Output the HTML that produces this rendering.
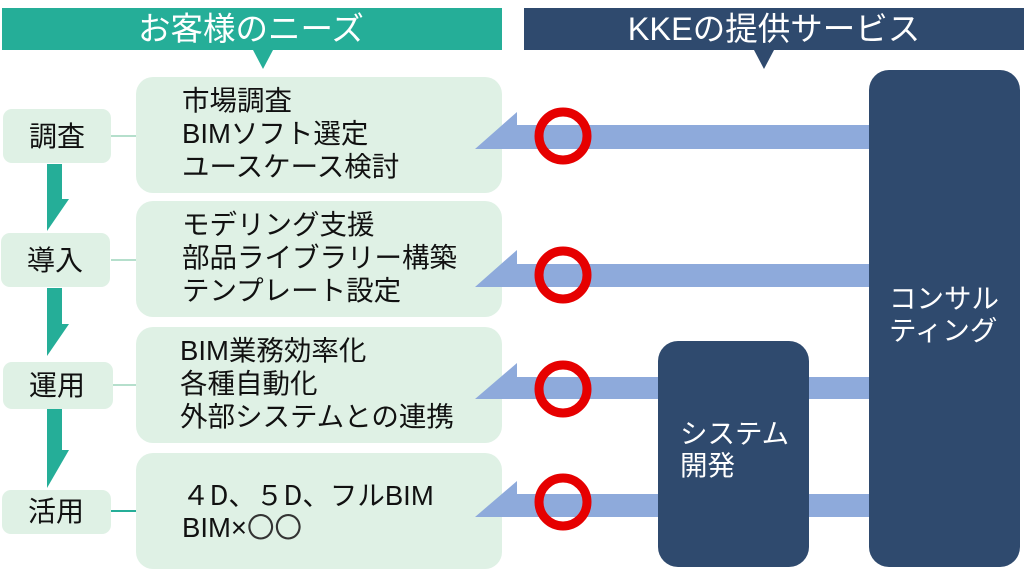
<!DOCTYPE html>
<html><head><meta charset="utf-8"><style>
html,body{margin:0;padding:0;background:#fff;}
svg{display:block;}
text{font-family:"Liberation Sans","Noto Sans CJK JP",sans-serif;}
.cjk{font-family:"Noto Sans CJK JP",sans-serif;}
</style></head><body>
<svg width="1024" height="570" viewBox="0 0 1024 570" xmlns="http://www.w3.org/2000/svg">
<rect x="2" y="8" width="500" height="42" fill="#25ae98"/>
<polygon points="253,50 273,50 263,69" fill="#25ae98"/>
<text x="251" y="40" fill="#fff" font-size="32.5" text-anchor="middle">お客様のニーズ</text>
<rect x="524" y="8" width="500" height="42" fill="#2f4a6e"/>
<polygon points="754,50 774,50 764,69" fill="#2f4a6e"/>
<text x="774" y="40" fill="#fff" font-size="32.5" text-anchor="middle">KKEの提供サービス</text>

<g stroke="#b5dfcc" stroke-width="2">
<line x1="111" y1="136" x2="137" y2="136"/>
<line x1="111" y1="260" x2="137" y2="260"/>
<line x1="111" y1="385" x2="137" y2="385"/>
</g>
<line x1="111" y1="511" x2="137" y2="511" stroke="#25ae98" stroke-width="2"/>

<g fill="#dff1e5">
<rect x="3" y="109" width="108" height="54" rx="9"/>
<rect x="1" y="233" width="109" height="54" rx="9"/>
<rect x="3" y="362" width="110" height="47" rx="9"/>
<rect x="2" y="490" width="109" height="44" rx="9"/>
<rect x="136" y="77" width="366" height="116" rx="17"/>
<rect x="136" y="201" width="366" height="116" rx="17"/>
<rect x="136" y="327" width="366" height="116" rx="17"/>
<rect x="136" y="453" width="366" height="116" rx="17"/>
</g>
<g font-size="28" fill="#111" text-anchor="middle">
<text x="57" y="146">調査</text>
<text x="55" y="270">導入</text>
<text x="57" y="395">運用</text>
<text x="56" y="521">活用</text>
</g>

<g fill="#25ae98">
<polygon points="47,164 62,164 62,199 69,199 47,231"/>
<polygon points="47,288 62,288 62,324 69,324 47,356"/>
<polygon points="47,409 62,409 62,450 69,450 47,488"/>
</g>

<g font-size="27.5" fill="#111">
<text x="182" y="110">市場調査</text>
<text x="182" y="143">BIMソフト選定</text>
<text x="182" y="176">ユースケース検討</text>
<text x="182" y="234">モデリング支援</text>
<text x="182" y="267">部品ライブラリー構築</text>
<text x="182" y="300">テンプレート設定</text>
<text x="180" y="360">BIM業務効率化</text>
<text x="180" y="393">各種自動化</text>
<text x="180" y="426">外部システムとの連携</text>
<text x="182" y="505" class="cjk">４D、５D、フル<tspan font-family="Liberation Sans">BIM</tspan></text>
<text x="182" y="537"><tspan>BIM×</tspan><tspan class="cjk" fill="#333">〇〇</tspan></text>
</g>

<g fill="#8eaadb">
<polygon points="475,149 517,112 517,125 870,125 870,149"/>
<polygon points="475,287 517,250 517,264 870,264 870,287"/>
<polygon points="475,399 517,363 517,377 870,377 870,399"/>
<polygon points="475,517 517,481 517,494 870,494 870,517"/>
</g>
<g fill="none" stroke="#e60000" stroke-width="9">
<circle cx="563" cy="136" r="24"/>
<circle cx="563" cy="275" r="24"/>
<circle cx="563" cy="389" r="24"/>
<circle cx="563" cy="502" r="24"/>
</g>

<rect x="869" y="70" width="151" height="497" rx="20" fill="#2f4a6e"/>
<rect x="658" y="341" width="151" height="226" rx="20" fill="#2f4a6e"/>
<g font-size="27.5" fill="#fff">
<text x="889" y="308">コンサル</text>
<text x="889" y="340">ティング</text>
<text x="680" y="443">システム</text>
<text x="680" y="475">開発</text>
</g>
</svg>
</body></html>
